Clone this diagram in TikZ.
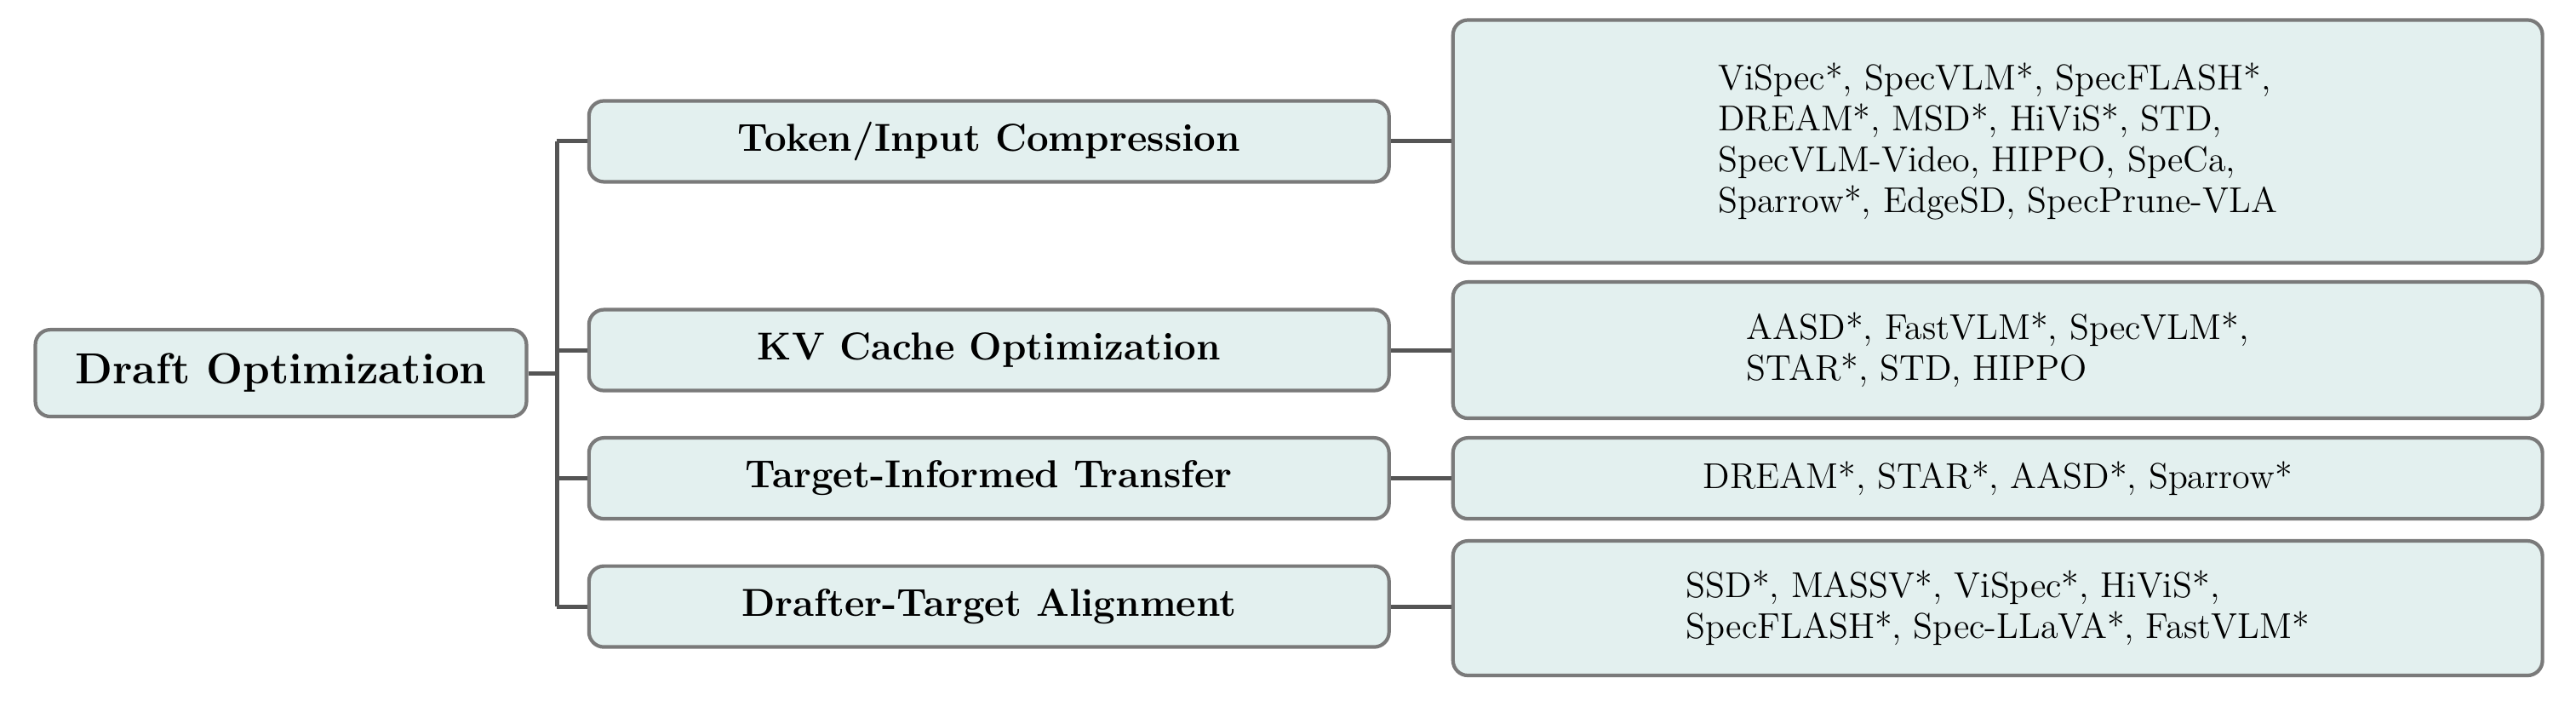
\documentclass[tikz,border=0pt]{standalone}
\usetikzlibrary{positioning, calc}
\definecolor{boxfill}{HTML}{E3F0EF}
\definecolor{boxdraw}{HTML}{7A7A7A}
\definecolor{linkcol}{HTML}{555555}
\tikzset{box/.style={draw=boxdraw, fill=boxfill, line width=1.2pt, rounded corners=5pt, inner sep=2pt}}
\tikzset{cat/.style={box, minimum width=9.4cm, minimum height=0.95cm, font=\fontsize{13}{15}\selectfont\bfseries}}
\tikzset{leaf/.style={box, minimum width=12.8cm, align=left, font=\fontsize{12}{13.7}\selectfont}}
\tikzset{link/.style={draw=linkcol, line width=1.4pt}}
\begin{document}
\begin{tikzpicture}[x=0.0193cm, y=-0.0193cm]
  \useasboundingbox (0,0) rectangle (1568,426);

  \node[box, minimum width=5.77cm, minimum height=1.02cm, font=\fontsize{14.5}{16}\selectfont\bfseries] (root) at (171,227) {Draft Optimization};

  \node[cat] (c1) at (602,86) {Token/Input Compression};
  \node[cat] (c2) at (602,213) {KV Cache Optimization};
  \node[cat] (c3) at (602,291) {Target-Informed Transfer};
  \node[cat] (c4) at (602,369) {Drafter-Target Alignment};

  \node[leaf, minimum height=2.85cm] (l1) at (1216,86) {ViSpec*, SpecVLM*, SpecFLASH*,\\DREAM*, MSD*, HiViS*, STD,\\SpecVLM-Video, HIPPO, SpeCa,\\Sparrow*, EdgeSD, SpecPrune-VLA};
  \node[leaf, minimum height=1.6cm] (l2) at (1216,213) {AASD*, FastVLM*, SpecVLM*,\\STAR*, STD, HIPPO};
  \node[leaf, minimum height=0.95cm] (l3) at (1216,291) {DREAM*, STAR*, AASD*, Sparrow*};
  \node[leaf, minimum height=1.58cm] (l4) at (1216,370) {SSD*, MASSV*, ViSpec*, HiViS*,\\SpecFLASH*, Spec-LLaVA*, FastVLM*};

  \coordinate (trunk) at (339,213);
  \draw[link] (root.east) -- (root.east -| trunk);
  \draw[link] (c1.west -| trunk) -- (c4.west -| trunk);
  \foreach \i in {1,...,4} {
    \draw[link] (c\i.west -| trunk) -- (c\i.west);
    \draw[link] (c\i.east) -- (c\i.east -| l\i.west);
  }
\end{tikzpicture}
\end{document}
